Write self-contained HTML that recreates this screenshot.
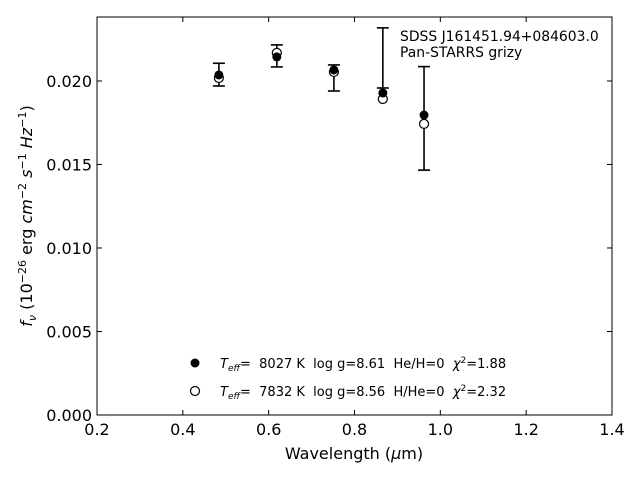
<!DOCTYPE html>
<html><head><meta charset="utf-8"><style>
body{margin:0;background:#fff}
svg{font-family:"DejaVu Sans","Liberation Sans",sans-serif}
text{white-space:pre}
</style></head><body>
<svg id="c" width="640" height="480" xmlns="http://www.w3.org/2000/svg">
<rect x="97" y="17" width="515" height="398" fill="none" stroke="#000" stroke-width="1"/>
<g id="ax"></g>
<g id="marks"></g>
<text x="400" y="41" font-size="13.9">SDSS J161451.94+084603.0</text>
<text x="400" y="57" font-size="13.9">Pan-STARRS grizy</text>
<g font-size="13">
<circle cx="195" cy="363" r="4.5" fill="#000"/>
<text x="220" y="368" xml:space="preserve"><tspan font-style="italic">T</tspan><tspan font-style="italic" font-size="9" dy="3">eff</tspan><tspan dy="-3">=  8027 K  log g=8.61  He/H=0  </tspan><tspan font-style="italic">χ</tspan><tspan font-size="9" dy="-5">2</tspan><tspan dy="5">=1.88</tspan></text>
<circle cx="195" cy="391" r="4.5" fill="#fff" stroke="#000" stroke-width="1.2"/>
<text x="220" y="396" xml:space="preserve"><tspan font-style="italic">T</tspan><tspan font-style="italic" font-size="9" dy="3">eff</tspan><tspan dy="-3">=  7832 K  log g=8.56  H/He=0  </tspan><tspan font-style="italic">χ</tspan><tspan font-size="9" dy="-5">2</tspan><tspan dy="5">=2.32</tspan></text>
</g>
<text x="354" y="459" font-size="16" text-anchor="middle">Wavelength (<tspan font-style="italic">μ</tspan>m)</text>
<text transform="translate(32,216) rotate(-90)" font-size="16" text-anchor="middle"><tspan font-style="italic">f</tspan><tspan font-style="italic" font-size="11" dy="4">ν</tspan><tspan dy="-4"> (10</tspan><tspan font-size="11" dy="-6">−26</tspan><tspan dy="6"> erg </tspan><tspan font-style="italic">cm</tspan><tspan font-size="11" dy="-6">−2</tspan><tspan dy="6"> </tspan><tspan font-style="italic">s</tspan><tspan font-size="11" dy="-6">−1</tspan><tspan dy="6"> </tspan><tspan font-style="italic">Hz</tspan><tspan font-size="11" dy="-6">−1</tspan><tspan dy="6">)</tspan></text>
</svg>
<script>
const wavelengths=[0.484,0.619,0.752,0.866,0.962];
const observed=[0.02038,0.0215,0.02018,0.02138,0.01776];
const errors=[0.00068,0.00066,0.00078,0.0018,0.0031];
const model1=[0.02036,0.02144,0.02066,0.01928,0.01796];
const model2=[0.02018,0.02168,0.02054,0.01892,0.01743];
const xTicks=[0.2,0.4,0.6,0.8,1.0,1.2,1.4];
const xTickLabels=["0.2","0.4","0.6","0.8","1.0","1.2","1.4"];
const yTicks=[0,0.005,0.010,0.015,0.020];
const yTickLabels=["0.000","0.005","0.010","0.015","0.020"];
const X0=97,X1=612,Y0=415,Y1=17,xmin=0.2,xmax=1.4,ymin=0,ymax=0.02383;
const sx=v=>X0+(v-xmin)/(xmax-xmin)*(X1-X0);
const sy=v=>Y0-(v-ymin)/(ymax-ymin)*(Y0-Y1);
const NS="http://www.w3.org/2000/svg";
function mk(tag,attrs,parent){const e=document.createElementNS(NS,tag);for(const k in attrs)e.setAttribute(k,attrs[k]);parent.appendChild(e);return e;}
const ax=document.getElementById('ax'),mg=document.getElementById('marks');
xTicks.forEach((t,i)=>{const x=sx(t);
 let a=mk('line',{x1:x,x2:x,y1:Y0,y2:Y0-5,stroke:'#000'},ax);
 
 
 let b=mk('line',{x1:x,x2:x,y1:Y1,y2:Y1+5,stroke:'#000'},ax);
 
 
 let l=mk('text',{x:x,y:Y0+20,'font-size':16,'text-anchor':'middle'},ax);l.textContent=xTickLabels[i];
 
 
});
yTicks.forEach((t,i)=>{const y=sy(t);
 let a=mk('line',{x1:X0,x2:X0+5,y1:y,y2:y,stroke:'#000'},ax);
 
 
 let b=mk('line',{x1:X1,x2:X1-5,y1:y,y2:y,stroke:'#000'},ax);
 
 
 let l=mk('text',{x:X0-5,y:y+6,'font-size':16,'text-anchor':'end'},ax);l.textContent=yTickLabels[i];
 
 
});
wavelengths.forEach((w,i)=>{const x=sx(w),yt=sy(observed[i]+errors[i]),yb=sy(observed[i]-errors[i]);
 const g=mk('g',{stroke:'#000','stroke-width':1.6},mg);
 
 
 mk('line',{x1:x,x2:x,y1:yt,y2:yb},g);
 mk('line',{x1:x-6,x2:x+6,y1:yt,y2:yt},g);
 mk('line',{x1:x-6,x2:x+6,y1:yb,y2:yb},g);
});
wavelengths.forEach((w,i)=>{
 const c=mk('circle',{cx:sx(w),cy:sy(model2[i]),r:4.5,fill:'#fff',stroke:'#000','stroke-width':1.2},mg);
 
 
});
wavelengths.forEach((w,i)=>{
 const c=mk('circle',{cx:sx(w),cy:sy(model1[i]),r:4.5,fill:'#000'},mg);
 
 
});
</script>
</body></html>
